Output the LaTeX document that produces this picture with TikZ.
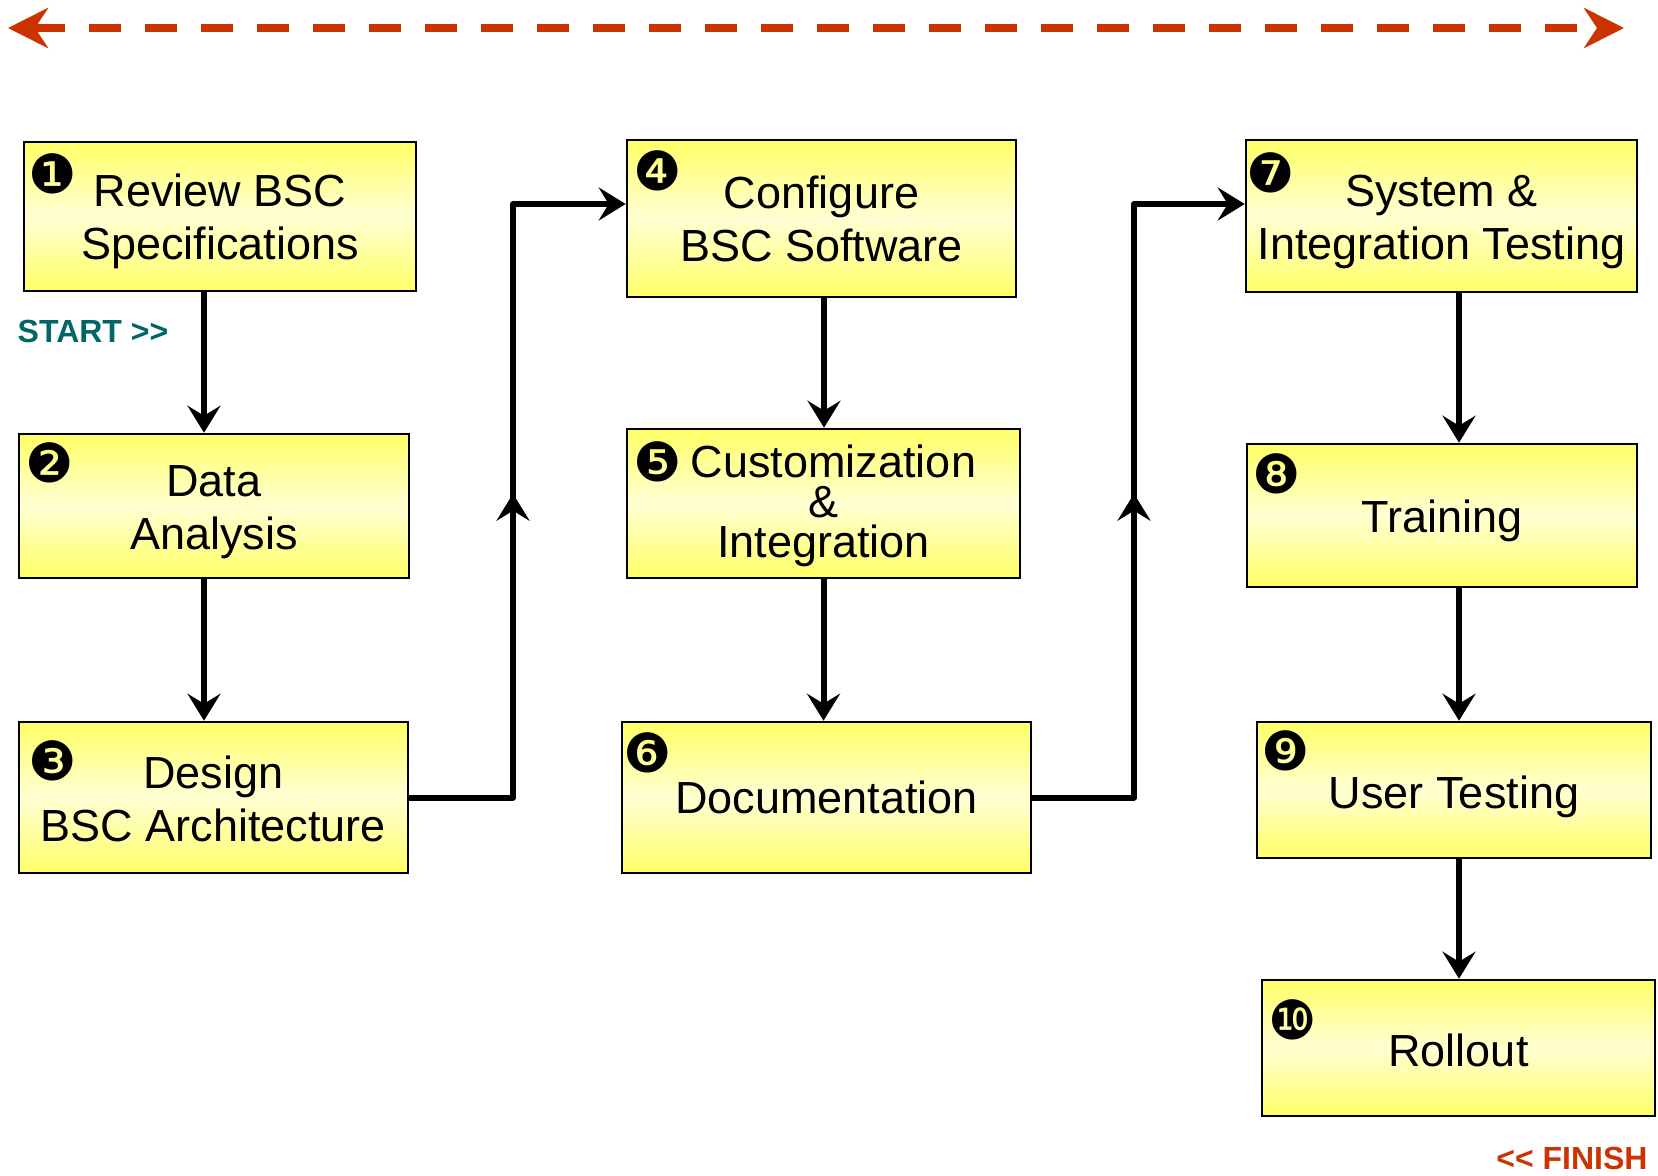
\documentclass[tikz,border=0pt]{standalone}
\usepackage{fontspec}
\setmainfont{Liberation Sans}
\newfontfamily\dingfont{DejaVu Sans}
\usetikzlibrary{arrows.meta,decorations.markings,calc}

\definecolor{boxyellow}{RGB}{255,255,102}
\definecolor{boxlight}{RGB}{255,255,212}
\definecolor{flagred}{RGB}{204,51,0}
\definecolor{startteal}{RGB}{0,102,102}

\tikzset{
  stepbox/.style={draw=black, line width=1.3pt, rectangle, inner sep=0pt,
    top color=boxyellow, bottom color=boxyellow, middle color=boxlight},
  steptext/.style={inner sep=0pt, align=center, font=\fontsize{22.5pt}{26.5pt}\selectfont},
  numdot/.style={inner sep=0pt, font=\dingfont\fontsize{27pt}{27pt}\selectfont},
  flow/.style={line width=3pt, line join=round, -{Stealth[length=13.5pt, width=16.5pt, inset=5pt]}},
  midarrow/.style={postaction={decorate}, decoration={markings,
    mark=at position #1 with {\arrow{Stealth[length=13.5pt, width=16.5pt, inset=5pt]}}}},
  timeline/.style={draw=flagred, line width=4pt, dash pattern=on 16pt off 12pt,
    {Stealth[length=20pt, width=20pt, inset=6.5pt]}-{Stealth[length=20pt, width=20pt, inset=6.5pt]}},
  tag/.style={inner sep=0pt, font=\bfseries\fontsize{16pt}{16pt}\selectfont},
}

\begin{document}
\begin{tikzpicture}[x=0.5pt, y=-0.5pt]
  \useasboundingbox (0,0) rectangle (1658,1175);
  \fill[white] (0,0) rectangle (1658,1175);

  % timeline across the top
  \coordinate (tl) at (8,28);
  \coordinate (tr) at (1624,28);
  \draw[timeline] (tl) -- (tr);

  % process step boxes
  \node[stepbox, minimum width=196pt,   minimum height=74.5pt] (b1)  at (220,216.5)   {};
  \node[stepbox, minimum width=195pt,   minimum height=72pt]   (b2)  at (214,506)     {};
  \node[stepbox, minimum width=194.5pt, minimum height=75.5pt] (b3)  at (213.5,797.5) {};
  \node[stepbox, minimum width=194.5pt, minimum height=78.5pt] (b4)  at (821.5,218.5) {};
  \node[stepbox, minimum width=196.5pt, minimum height=74.5pt] (b5)  at (823.5,503.5) {};
  \node[stepbox, minimum width=204.5pt, minimum height=75.5pt] (b6)  at (826.5,797.5) {};
  \node[stepbox, minimum width=195.5pt, minimum height=76pt]   (b7)  at (1441.5,216)  {};
  \node[stepbox, minimum width=195pt,   minimum height=71.5pt] (b8)  at (1442,515.5)  {};
  \node[stepbox, minimum width=197pt,   minimum height=68pt]   (b9)  at (1454,790)    {};
  \node[stepbox, minimum width=196.5pt, minimum height=68pt]   (b10) at (1458.5,1048) {};

  % step titles
  \node[steptext] (t1)  at ([yshift=-2.6pt]b1.center)   {Review BSC\\Specifications};
  \node[steptext] (t2)  at ([yshift=-3.2pt]b2.center)   {Data\\Analysis};
  \node[steptext] (t3)  at ([yshift=-0.5pt]b3.center)   {Design\\BSC Architecture};
  \node[steptext] (t4)  at (b4.center)                  {Configure\\BSC Software};
  \node[steptext, font=\fontsize{22.5pt}{20pt}\selectfont]
                  (t5)  at ([yshift=-1pt]b5.center)     {\hspace*{10pt}Customization\\\&\\Integration};
  \node[steptext] (t6)  at (b6.center)                  {Documentation};
  \node[steptext] (t7)  at ([yshift=-3.2pt]b7.center)   {System \&\\Integration Testing};
  \node[steptext] (t8)  at ([yshift=-2.6pt]b8.center)   {Training};
  \node[steptext] (t9)  at ([yshift=-3.2pt]b9.center)   {User Testing};
  \node[steptext] (t10) at ([yshift=-1pt]b10.center)    {Rollout};

  % step numbers
  \node[numdot] (n1)  at (53,174)   {❶};
  \node[numdot] (n2)  at (50,463)   {❷};
  \node[numdot] (n3)  at (53,761)   {❸};
  \node[numdot] (n4)  at (658,171)  {❹};
  \node[numdot] (n5)  at (658,462)  {❺};
  \node[numdot] (n6)  at (648,753)  {❻};
  \node[numdot] (n7)  at (1271,173) {❼};
  \node[numdot] (n8)  at (1277,474) {❽};
  \node[numdot] (n9)  at (1286,751) {❾};
  \node[numdot] (n10) at (1293,1020) {❿};

  % start / finish labels
  \node[tag, text=startteal] (start)  at (93,331)    {START >\kern0pt>};
  \node[tag, text=flagred]   (finish) at (1572,1158) {<\kern0pt< FINISH};

  % vertical flow inside each column
  \draw[flow] ([xshift=-8pt]b1.south) -- ([xshift=-8pt]b1.south |- b2.north);
  \draw[flow] ([xshift=-5pt]b2.south) -- ([xshift=-5pt]b2.south |- b3.north);
  \draw[flow] ([xshift=1.25pt]b4.south) -- ([xshift=1.25pt]b4.south |- b5.north);
  \draw[flow] (b5.south) -- (b5.south |- b6.north);
  \draw[flow] ([xshift=8.75pt]b7.south) -- ([xshift=8.75pt]b7.south |- b8.north);
  \draw[flow] ([xshift=8.5pt]b8.south) -- ([xshift=8.5pt]b8.south |- b9.north);
  \draw[flow] ([xshift=2.5pt]b9.south) -- ([xshift=2.5pt]b9.south |- b10.north);

  % links between columns
  \coordinate (j1) at (513,204);
  \coordinate (j2) at (1134,204);
  \draw[flow, midarrow=203.75pt] (b3.east) -| (j1) -- (j1 -| b4.west);
  \draw[flow, midarrow=202.75pt] (b6.east) -| (j2) -- (j2 -| b7.west);
\end{tikzpicture}
\end{document}
